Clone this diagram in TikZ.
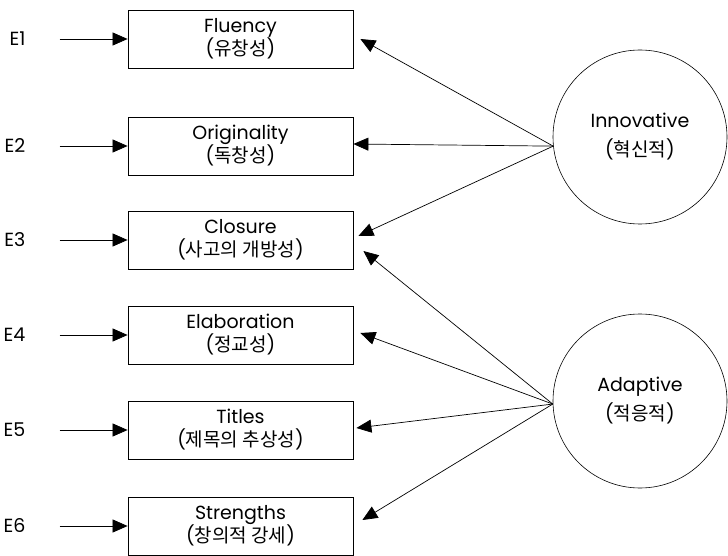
\documentclass[tikz,border=0pt]{standalone}
\usepackage{fontspec}
\setmainfont{Poppins}
\newfontfamily\kr{Noto Sans CJK KR}
\usetikzlibrary{arrows.meta,positioning}
\tikzset{
  txt/.style={font=\fontsize{19}{23}\selectfont},
  var/.style={txt,draw,line width=0.8pt,minimum width=225pt,minimum height=58pt,
    inner sep=0pt,align=center,execute at begin node={\rule{0pt}{27pt}}},
  lat/.style={txt,font=\fontsize{19}{29}\selectfont,draw,circle,line width=0.6pt,
    minimum size=174pt,inner sep=0pt,align=center},
  err/.style={txt,inner sep=2pt},
  arr/.style={-{Triangle[length=15pt,width=13pt]},line width=0.7pt}
}
\begin{document}
\begin{tikzpicture}[x=1pt,y=-1pt]
  \useasboundingbox (0,0) rectangle (728,556);
  \draw
    (240.5,39) node[var] (flu){Fluency\\({\kr 유창성})}
    (240.5,146) node[var] (ori){Originality\\({\kr 독창성})}
    (240.5,240) node[var] (clo){Closure\\({\kr 사고의 개방성})}
    (240.5,335) node[var] (ela){Elaboration\\({\kr 정교성})}
    (240.5,430) node[var] (tit){Titles\\({\kr 제목의 추상성})}
    (240.5,526) node[var] (str){Strengths\\({\kr 창의적 강세})};
  \draw
    (640,137) node[lat] (inn){Innovative\\({\kr 혁신적})}
    (640,401) node[lat] (ada){Adaptive\\({\kr 적응적})};
  \foreach \i/\b in {1/flu,2/ori,3/clo,4/ela,5/tit,6/str}
    \node[err,left=100pt of \b] (e\i){E\i};
  \begin{scope}[arr]
    \foreach \i/\b in {1/flu,2/ori,3/clo,4/ela,5/tit,6/str}
      \draw[shorten <=32pt] (e\i) -- (\b);
    \draw (inn.186) -- ([xshift=7pt]flu.east);
    \draw (inn.186) -- ([yshift=2pt]ori.east);
    \draw (inn.186) -- ([xshift=5pt,yshift=4pt]clo.east);
    \draw (ada.182) -- ([xshift=10pt,yshift=-11pt]clo.east);
    \draw (ada.182) -- ([xshift=7pt,yshift=2pt]ela.east);
    \draw (ada.182) -- ([xshift=3pt,yshift=2pt]tit.east);
    \draw (ada.182) -- ([xshift=9pt,yshift=6pt]str.east);
  \end{scope}
\end{tikzpicture}
\end{document}
